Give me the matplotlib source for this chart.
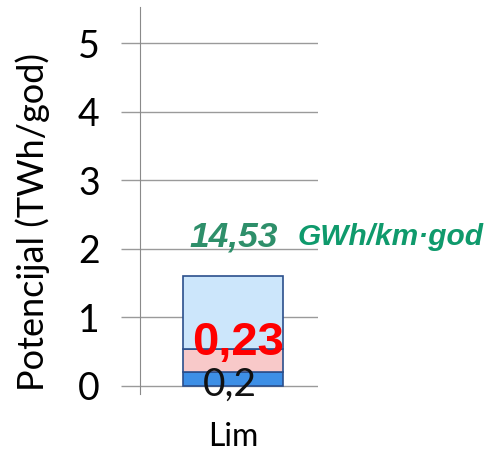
import matplotlib
matplotlib.use("Agg")
import matplotlib.pyplot as plt

categories = ["Lim"]
seg_bottom = [0.2]
seg_mid = [0.33]
seg_top = [1.07]
label_low = "0,2"
label_mid = "0,23"
label_density = "14,53"
label_unit = "GWh/km·god"
yticks = [0, 1, 2, 3, 4, 5]

fig = plt.figure(figsize=(4.89, 4.53), dpi=100)
ax = fig.add_axes([140/489, (453-394)/453, 178/489, 387/453])

x = [0]
edge = "#2b4f8c"
ax.bar(x, seg_bottom, width=1.0, color="#3d8fe6", edgecolor=edge, linewidth=1.2, zorder=3)
ax.bar(x, seg_mid, bottom=seg_bottom, width=1.0, color="#f8c9c9", edgecolor=edge, linewidth=1.2, zorder=3)
b2 = [a + b for a, b in zip(seg_bottom, seg_mid)]
ax.bar(x, seg_top, bottom=b2, width=1.0, color="#cce6fb", edgecolor=edge, linewidth=1.2, zorder=3)

ax.set_xlim(-0.93, 0.85)
ax.set_ylim(-0.12, 5.53)
ax.set_yticks(yticks)
ax.set_yticklabels([str(t) for t in yticks], fontsize=27, family="Lato")
ax.set_xticks(x)
ax.set_xticklabels(categories, fontsize=23, family="Lato")
ax.grid(axis="y", color="#9a9a9a", linewidth=1.0, zorder=0)
for s in ["top", "right", "bottom"]:
    ax.spines[s].set_visible(False)
ax.spines["left"].set_color("#8a8a8a")
ax.tick_params(axis="y", length=14, width=1.0, color="#9a9a9a", pad=15)
ax.tick_params(axis="x", length=0, pad=20)
fig.text(33/489, 1 - 222/453, "Potencijal (TWh/god)", rotation=90, ha="center", va="center",
         fontsize=26, family="Lato")

ax.text(-0.03, 0.02, label_low, ha="center", va="center", fontsize=28, family="Lato",
        color="#111111", zorder=4)
ax.text(0.05, 0.62, label_mid, ha="center", va="center", fontsize=34, fontweight="bold",
        family="Liberation Sans", color="#ff0000", zorder=5)
ax.text(-0.44, 2.17, label_density, ha="left", va="center", fontsize=25.5, fontweight="bold",
        style="italic", family="Liberation Sans", color="#2e8f6a", zorder=5)
ax.text(0.65, 2.17, label_unit, ha="left", va="center", fontsize=21.5, fontweight="bold",
        style="italic", family="Liberation Sans", color="#0f9a6c", zorder=5, clip_on=False)

fig.savefig("out.png", dpi=100)
